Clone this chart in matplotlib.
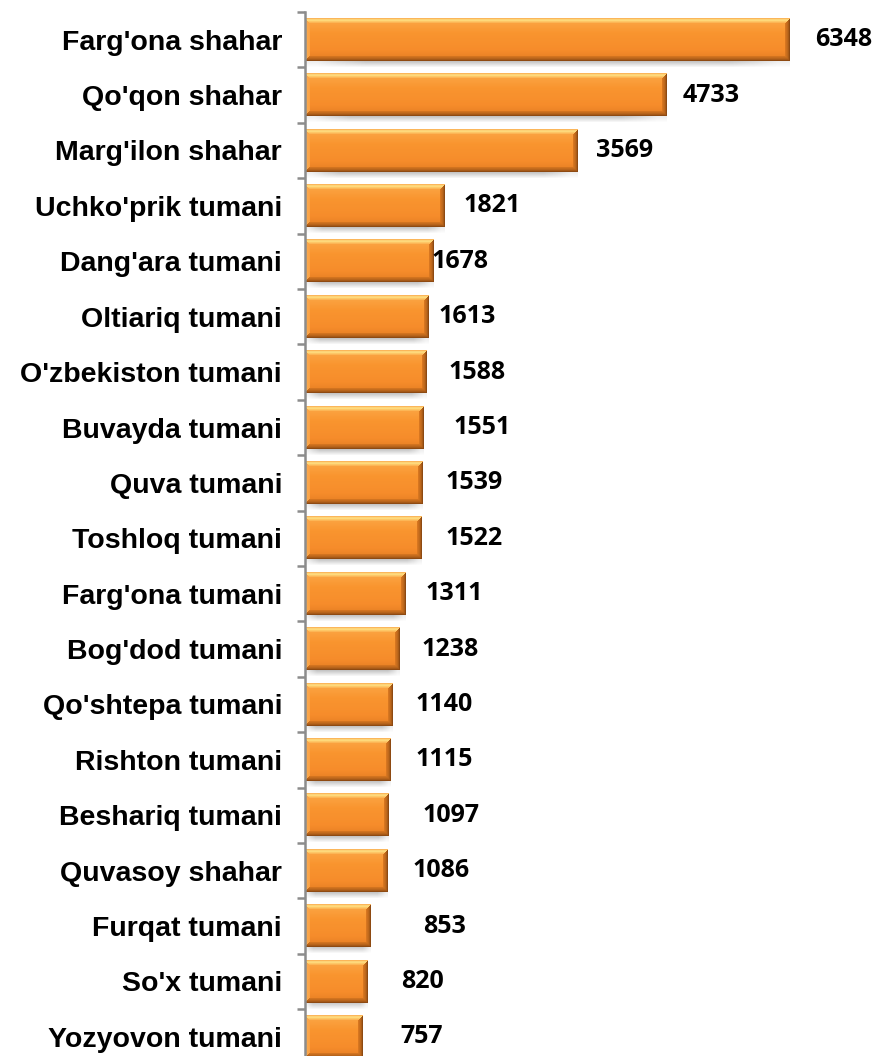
import numpy as np
import matplotlib
matplotlib.use("Agg")
import matplotlib.pyplot as plt
from matplotlib.colors import to_rgb

categories = ["Farg'ona shahar", "Qo'qon shahar", "Marg'ilon shahar", "Uchko'prik tumani",
              "Dang'ara tumani", "Oltiariq tumani", "O'zbekiston tumani", "Buvayda tumani",
              "Quva tumani", "Toshloq tumani", "Farg'ona tumani", "Bog'dod tumani",
              "Qo'shtepa tumani", "Rishton tumani", "Beshariq tumani", "Quvasoy shahar",
              "Furqat tumani", "So'x tumani", "Yozyovon tumani"]
values = [6348, 4733, 3569, 1821, 1678, 1613, 1588, 1551, 1539, 1522,
          1311, 1238, 1140, 1115, 1097, 1086, 853, 820, 757]
# label offsets (pixels) from the bar end, as placed in the original
label_offsets_px = [25, 16, 18, 19, -2, 10, 22, 30, 23, 24, 20, 22, 23, 25, 34, 25, 53, 33, 38]

W, H, DPI = 878, 1056, 100
fig = plt.figure(figsize=(W / DPI, H / DPI), dpi=DPI)
n = len(categories)
row_px = 55.4
ax_left = 305 / W
ax_top = 1 - 12 / H
ax_h = n * row_px / H
ax = fig.add_axes([ax_left, ax_top - ax_h, (W - 305) / W, ax_h])
xmax = 7500
ax.set_xlim(0, xmax)
ax.set_ylim(n - 0.5, -0.5)
ax.set_autoscale_on(False)
ypos = np.arange(n)
bh = 0.76

bars = ax.barh(ypos, values, height=bh, color="#F7922F", linewidth=0, zorder=2)

def hexrgb(c):
    return np.array(to_rgb(c))

def interp(stops, t):
    ts = np.array([s[0] for s in stops])
    cs = np.array([hexrgb(s[1]) for s in stops])
    out = np.stack([np.interp(t, ts, cs[:, k]) for k in range(3)], axis=-1)
    return out

def bevel_image(wpx, hpx, b=5):
    Y, X = np.mgrid[0:hpx, 0:wpx].astype(float)
    t = Y / max(hpx - 1, 1)
    img = interp([(0.0, "#FCA848"), (0.35, "#F9952F"), (0.75, "#F68C2B"), (1.0, "#E47D22")], t)
    dx_r = wpx - 1 - X
    dy_b = hpx - 1 - Y
    top = (Y < b) & (Y <= X) & (Y <= dx_r)
    bot = (dy_b < b) & (dy_b <= X) & (dy_b <= dx_r)
    left = (X < b) & (X < Y) & (X < dy_b)
    right = (dx_r < b) & (dx_r < Y) & (dx_r < dy_b)
    topc = interp([(0, "#FBB65A"), (1.5, "#FFE386"), (3, "#FDC767"), (5, "#FBA646")], Y)
    img = np.where(top[..., None], topc, img)
    botc = interp([(0, "#8E4A12"), (1.5, "#B2611A"), (5, "#E07B22")], dy_b)
    img = np.where(bot[..., None], botc, img)
    leftc = interp([(0, "#E39A50"), (1, "#FBAA4E"), (5, "#F9A044")], X)
    img = np.where(left[..., None], leftc, img)
    rightc = interp([(0, "#8E4A12"), (1.5, "#B8651C"), (5, "#E47E22")], dx_r)
    img = np.where(right[..., None], rightc, img)
    return np.clip(img, 0, 1)

fig.canvas.draw()
px_per_x = (ax.transData.transform((1, 0))[0] - ax.transData.transform((0, 0))[0])
px_per_y = abs(ax.transData.transform((0, 1))[1] - ax.transData.transform((0, 0))[1])
hpx = int(round(bh * px_per_y))
for i, (v, bar) in enumerate(zip(values, bars)):
    wpx = max(int(round(v * px_per_x)), 10)
    img = bevel_image(wpx, hpx)
    ax.imshow(img, extent=(0, v, i + bh / 2, i - bh / 2), origin="upper",
              aspect="auto", interpolation="nearest", zorder=3)
    # drop shadow below
    sh_h = 7
    a = np.linspace(0.35, 0.0, sh_h)[:, None] * np.ones((1, 20))
    edge = np.ones(20)
    edge[:2] = [0.3, 0.7]
    edge[-2:] = [0.7, 0.3]
    a = a * edge[None, :]
    sh = np.zeros((sh_h, 20, 4))
    sh[..., :3] = 0.35
    sh[..., 3] = a
    ax.imshow(sh, extent=(0, v, i + bh / 2 + sh_h / px_per_y, i + bh / 2), origin="upper",
              aspect="auto", interpolation="bilinear", zorder=1)

for i, (v, off) in enumerate(zip(values, label_offsets_px)):
    ax.annotate(str(v), xy=(v, i), xytext=(off * 72 / DPI, 0), textcoords="offset points",
                ha="left", va="center", fontsize=18, fontweight="bold",
                family=["Open Sans", "DejaVu Sans"], color="black", zorder=4)

for s in ["top", "right", "bottom"]:
    ax.spines[s].set_visible(False)
ax.spines["left"].set_color("#8C8C8C")
ax.spines["left"].set_linewidth(1.8)
ax.spines["left"].set_zorder(5)
ax.set_xticks([])
ax.set_yticks(ypos)
ax.set_yticklabels(categories, fontsize=20.5, fontweight="bold", family=["Liberation Sans", "DejaVu Sans"])
ax.tick_params(axis="y", which="major", length=0, pad=16.5)
ax.set_yticks(np.arange(-0.5, n, 1.0), minor=True)
ax.tick_params(axis="y", which="minor", length=5.5, width=1.8, color="#8C8C8C", direction="out")
ax.patch.set_alpha(0)

fig.savefig("out.png", dpi=DPI)
